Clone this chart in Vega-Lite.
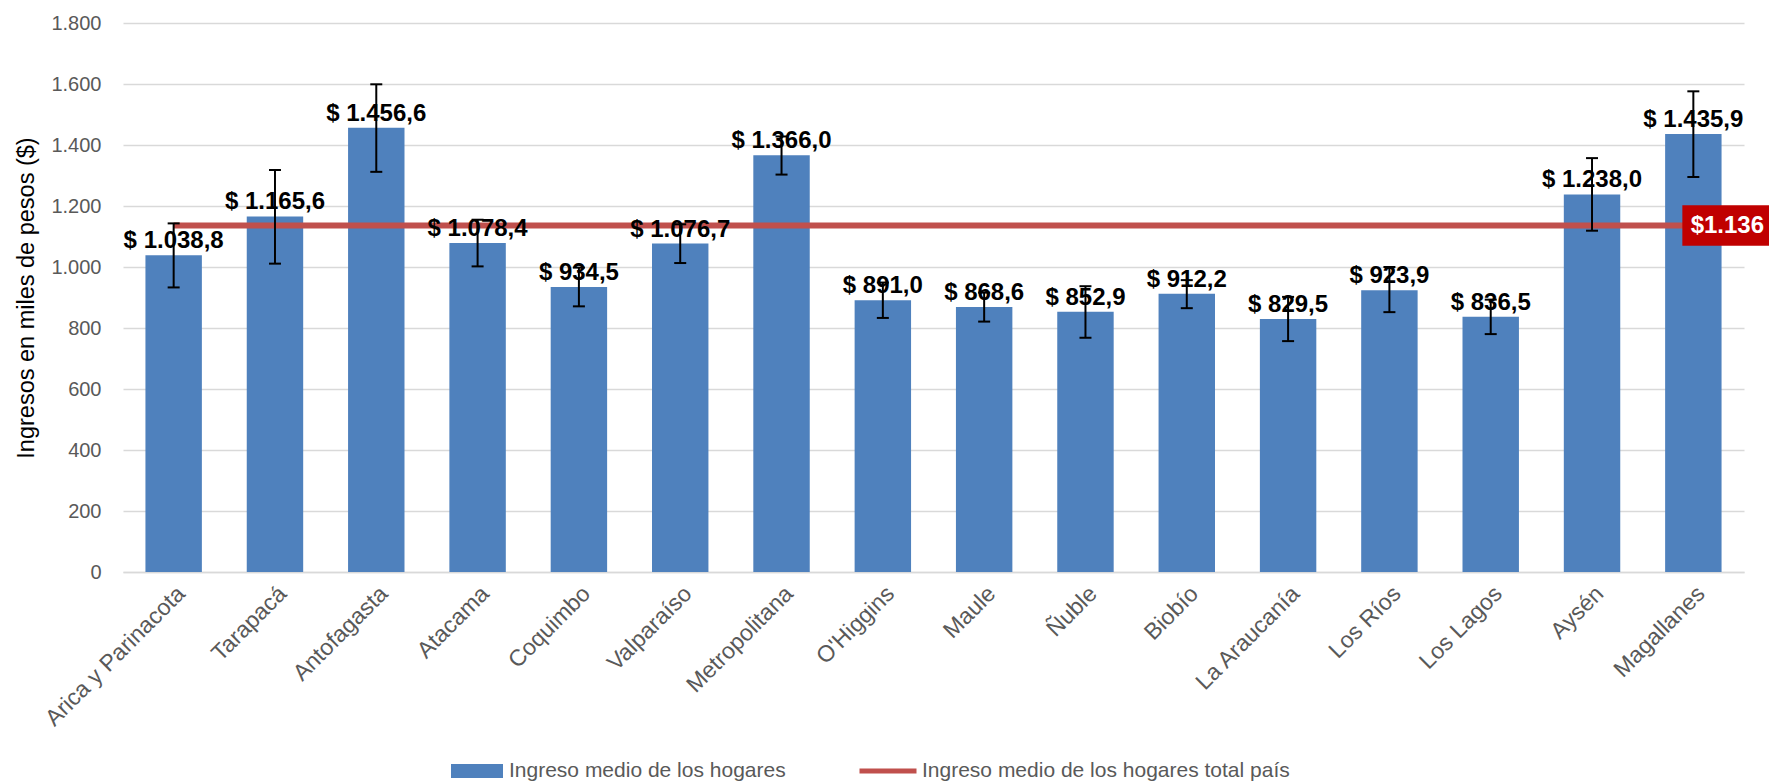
{
  "$schema": "https://vega.github.io/schema/vega-lite/v6.json",
  "width": 1621,
  "height": 549,
  "autosize": {"type": "none"},
  "padding": {"left": 123, "top": 23, "right": 25, "bottom": 211},
  "background": "white",
  "config": {
    "view": {"stroke": null},
    "font": "Liberation Sans"
  },
  "resolve": {"scale": {"color": "independent"}, "legend": {"color": "independent"}},
  "datasets": {
    "regiones": [
      {"region": "Arica y Parinacota", "ingreso": 1038.8, "lo": 933, "hi": 1143, "pais": 1136, "label": "$ 1.038,8"},
      {"region": "Tarapacá", "ingreso": 1165.6, "lo": 1011, "hi": 1318, "pais": 1136, "label": "$ 1.165,6"},
      {"region": "Antofagasta", "ingreso": 1456.6, "lo": 1312, "hi": 1599, "pais": 1136, "label": "$ 1.456,6"},
      {"region": "Atacama", "ingreso": 1078.4, "lo": 1002, "hi": 1155, "pais": 1136, "label": "$ 1.078,4"},
      {"region": "Coquimbo", "ingreso": 934.5, "lo": 871, "hi": 998, "pais": 1136, "label": "$ 934,5"},
      {"region": "Valparaíso", "ingreso": 1076.7, "lo": 1013, "hi": 1140, "pais": 1136, "label": "$ 1.076,7"},
      {"region": "Metropolitana", "ingreso": 1366.0, "lo": 1303, "hi": 1428, "pais": 1136, "label": "$ 1.366,0"},
      {"region": "O'Higgins", "ingreso": 891.0, "lo": 833, "hi": 949, "pais": 1136, "label": "$ 891,0"},
      {"region": "Maule", "ingreso": 868.6, "lo": 821, "hi": 916, "pais": 1136, "label": "$ 868,6"},
      {"region": "Ñuble", "ingreso": 852.9, "lo": 768, "hi": 937, "pais": 1136, "label": "$ 852,9"},
      {"region": "Biobío", "ingreso": 912.2, "lo": 865, "hi": 957, "pais": 1136, "label": "$ 912,2"},
      {"region": "La Araucanía", "ingreso": 829.5, "lo": 757, "hi": 902, "pais": 1136, "label": "$ 829,5"},
      {"region": "Los Ríos", "ingreso": 923.9, "lo": 852, "hi": 1000, "pais": 1136, "label": "$ 923,9"},
      {"region": "Los Lagos", "ingreso": 836.5, "lo": 780, "hi": 893, "pais": 1136, "label": "$ 836,5"},
      {"region": "Aysén", "ingreso": 1238.0, "lo": 1119, "hi": 1357, "pais": 1136, "label": "$ 1.238,0"},
      {"region": "Magallanes", "ingreso": 1435.9, "lo": 1295, "hi": 1576, "pais": 1136, "label": "$ 1.435,9"}
    ],
    "total": [
      {"region": "Magallanes", "pais": 1136, "texto": "$1.136"}
    ]
  },
  "data": {"name": "regiones"},
  "encoding": {
    "x": {
      "field": "region",
      "type": "nominal",
      "sort": null,
      "scale": {"type": "band", "paddingInner": 0.443, "paddingOuter": 0.2215},
      "axis": {
        "title": null,
        "labelAngle": -45,
        "labelFontSize": 23,
        "labelColor": "#595959",
        "labelPadding": 10,
        "labelLimit": 0,
        "ticks": false,
        "domain": true,
        "domainColor": "#d9d9d9",
        "domainWidth": 1.5,
        "grid": false
      }
    }
  },
  "layer": [
    {
      "mark": {"type": "bar", "opacity": 1},
      "encoding": {
        "y": {
          "field": "ingreso",
          "type": "quantitative",
          "scale": {"domain": [0, 1800], "nice": false},
          "axis": {
            "title": "Ingresos en miles de pesos ($)",
            "titleFontSize": 23.5,
            "titleFontWeight": "normal",
            "titleColor": "#000000",
            "titlePadding": 12,
            "values": [0, 200, 400, 600, 800, 1000, 1200, 1400, 1600, 1800],
            "labelExpr": "replace(format(datum.value, ',d'), ',', '.')",
            "labelFontSize": 20,
            "labelColor": "#595959",
            "labelPadding": 22,
            "ticks": false,
            "domain": false,
            "grid": true,
            "gridColor": "#d9d9d9",
            "gridWidth": 1.5
          }
        },
        "color": {
          "datum": "Ingreso medio de los hogares",
          "type": "nominal",
          "scale": {"domain": ["Ingreso medio de los hogares"], "range": ["#4f81bd"]},
          "legend": {
            "title": null,
            "orient": "none",
            "legendX": 328,
            "legendY": 722,
            "direction": "horizontal",
            "symbolType": "M-1,-0.27H1V0.27H-1Z",
            "symbolSize": 2704,
            "symbolStrokeWidth": 0,
            "symbolOpacity": 1,
            "labelFontSize": 21,
            "labelColor": "#595959",
            "labelLimit": 0,
            "labelOffset": 6
          }
        }
      }
    },
    {
      "mark": {"type": "line", "strokeWidth": 6},
      "encoding": {
        "y": {"field": "pais", "type": "quantitative"},
        "color": {
          "datum": "Ingreso medio de los hogares total país",
          "type": "nominal",
          "scale": {"domain": ["Ingreso medio de los hogares total país"], "range": ["#c0504d"]},
          "legend": {
            "title": null,
            "orient": "none",
            "legendX": 734,
            "legendY": 717,
            "direction": "horizontal",
            "symbolType": "stroke",
            "symbolSize": 3249,
            "symbolStrokeWidth": 5,
            "symbolOpacity": 1,
            "labelFontSize": 21,
            "labelColor": "#595959",
            "labelLimit": 0,
            "labelOffset": 3
          }
        }
      }
    },
    {
      "mark": {"type": "rule", "color": "#000000", "strokeWidth": 2},
      "encoding": {
        "y": {"field": "lo", "type": "quantitative"},
        "y2": {"field": "hi"}
      }
    },
    {
      "mark": {"type": "tick", "color": "#000000", "size": 12, "thickness": 2, "opacity": 1},
      "encoding": {"y": {"field": "lo", "type": "quantitative"}}
    },
    {
      "mark": {"type": "tick", "color": "#000000", "size": 12, "thickness": 2, "opacity": 1},
      "encoding": {"y": {"field": "hi", "type": "quantitative"}}
    },
    {
      "mark": {"type": "text", "fontSize": 24, "fontWeight": "bold", "color": "#000000", "baseline": "alphabetic", "dy": -7},
      "encoding": {
        "y": {"field": "ingreso", "type": "quantitative"},
        "text": {"field": "label"}
      }
    },
    {
      "data": {"name": "total"},
      "mark": {"type": "point", "shape": "M-1,-0.45H1V0.45H-1Z", "size": 8100, "filled": true, "color": "#c00000", "opacity": 1, "xOffset": 34},
      "encoding": {
        "y": {"field": "pais", "type": "quantitative"}
      }
    },
    {
      "data": {"name": "total"},
      "mark": {"type": "text", "fontSize": 24, "fontWeight": "bold", "color": "#ffffff", "baseline": "middle", "align": "center", "xOffset": 34},
      "encoding": {
        "y": {"field": "pais", "type": "quantitative"},
        "text": {"field": "texto"}
      }
    }
  ]
}
